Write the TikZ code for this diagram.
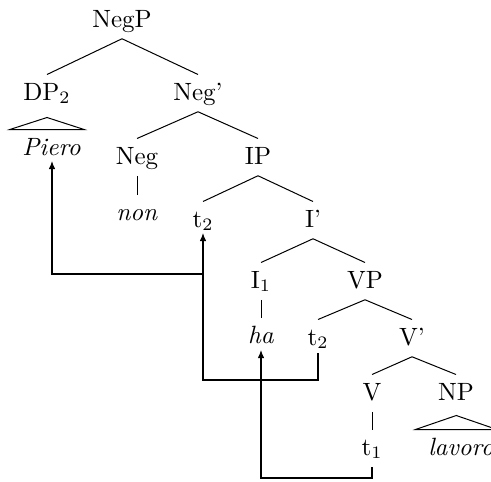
\documentclass[tikz,border=0pt]{standalone}
\usetikzlibrary{arrows.meta}
\begin{document}
\begin{tikzpicture}[x=0.4pt,y=-0.4pt,
  tn/.style={anchor=base,text height=7pt,text depth=1.5pt,inner sep=3pt},
  edge/.style={line width=0.4pt},
  arr/.style={line width=0.45pt,-{Latex[length=3.2pt,width=2.6pt]}}]
\clip (0,0) rectangle (491,481);
\node[tn] (NegP) at (122,27) {NegP};
\node[tn] (DP) at (47,100) {DP$_2$};
\node[tn] (Negb) at (198,100) {Neg'};
\node[tn] (Piero) at (51.5,155) {\textit{Piero}};
\node[tn] (Neg) at (137,164) {Neg};
\node[tn] (IP) at (258,164) {IP};
\node[tn] (non) at (137,220) {\textit{non}};
\node[tn] (t2a) at (203,227) {t$_2$};
\node[tn] (Ib) at (313,227) {I'};
\node[tn] (I1) at (261,288) {I$_1$};
\node[tn] (VP) at (365,288) {VP};
\node[tn] (ha) at (261,343) {\textit{ha}};
\node[tn] (t2b) at (318,345) {t$_2$};
\node[tn] (Vb) at (412,345) {V'};
\node[tn] (V) at (372,400) {V};
\node[tn] (NP) at (456,400) {NP};
\node[tn] (t1) at (372,455) {t$_1$};
\node[tn] (lav) at (461,455) {\textit{lavoro}};
% tree edges
\draw[edge] (NegP.south) -- (DP.north);
\draw[edge] (NegP.south) -- (Negb.north);
\draw[edge] (Negb.south) -- (Neg.north);
\draw[edge] (Negb.south) -- (IP.north);
\draw[edge] (Neg.south) -- (non.north);
\draw[edge] (IP.south) -- (t2a.north);
\draw[edge] (IP.south) -- (Ib.north);
\draw[edge] (Ib.south) -- (I1.north);
\draw[edge] (Ib.south) -- (VP.north);
\draw[edge] (I1.south) -- (ha.north);
\draw[edge] (VP.south) -- (t2b.north);
\draw[edge] (VP.south) -- (Vb.north);
\draw[edge] (Vb.south) -- (V.north);
\draw[edge] (Vb.south) -- (NP.north);
\draw[edge] (V.south) -- (t1.north);
% triangles
\draw[edge] ([xshift=-1.8pt]Piero.north west) -- ([xshift=-1.8pt,yshift=4.8pt]Piero.north) -- ([xshift=-1.8pt]Piero.north east) -- cycle;
\draw[edge] ([xshift=-1.9pt]lav.north west) -- ([xshift=-1.9pt,yshift=5.6pt]lav.north) -- ([xshift=-1.9pt]lav.north east) -- cycle;
% movement arrows
\coordinate (j1) at (203,274);
\coordinate (k2) at (0,380);
\coordinate (k3) at (0,478);
\draw[arr] (j1) -| ([xshift=0.2pt,yshift=-2.4pt]Piero.base);
\draw[arr] ([yshift=-3.2pt]t2b.base) -- (t2b.base |- k2) -| ([yshift=-2.4pt]t2a.base);
\draw[arr] ([yshift=-4.8pt]t1.base) -- (t1.base |- k3) -| ([yshift=-2.8pt]ha.base);
\end{tikzpicture}
\end{document}
